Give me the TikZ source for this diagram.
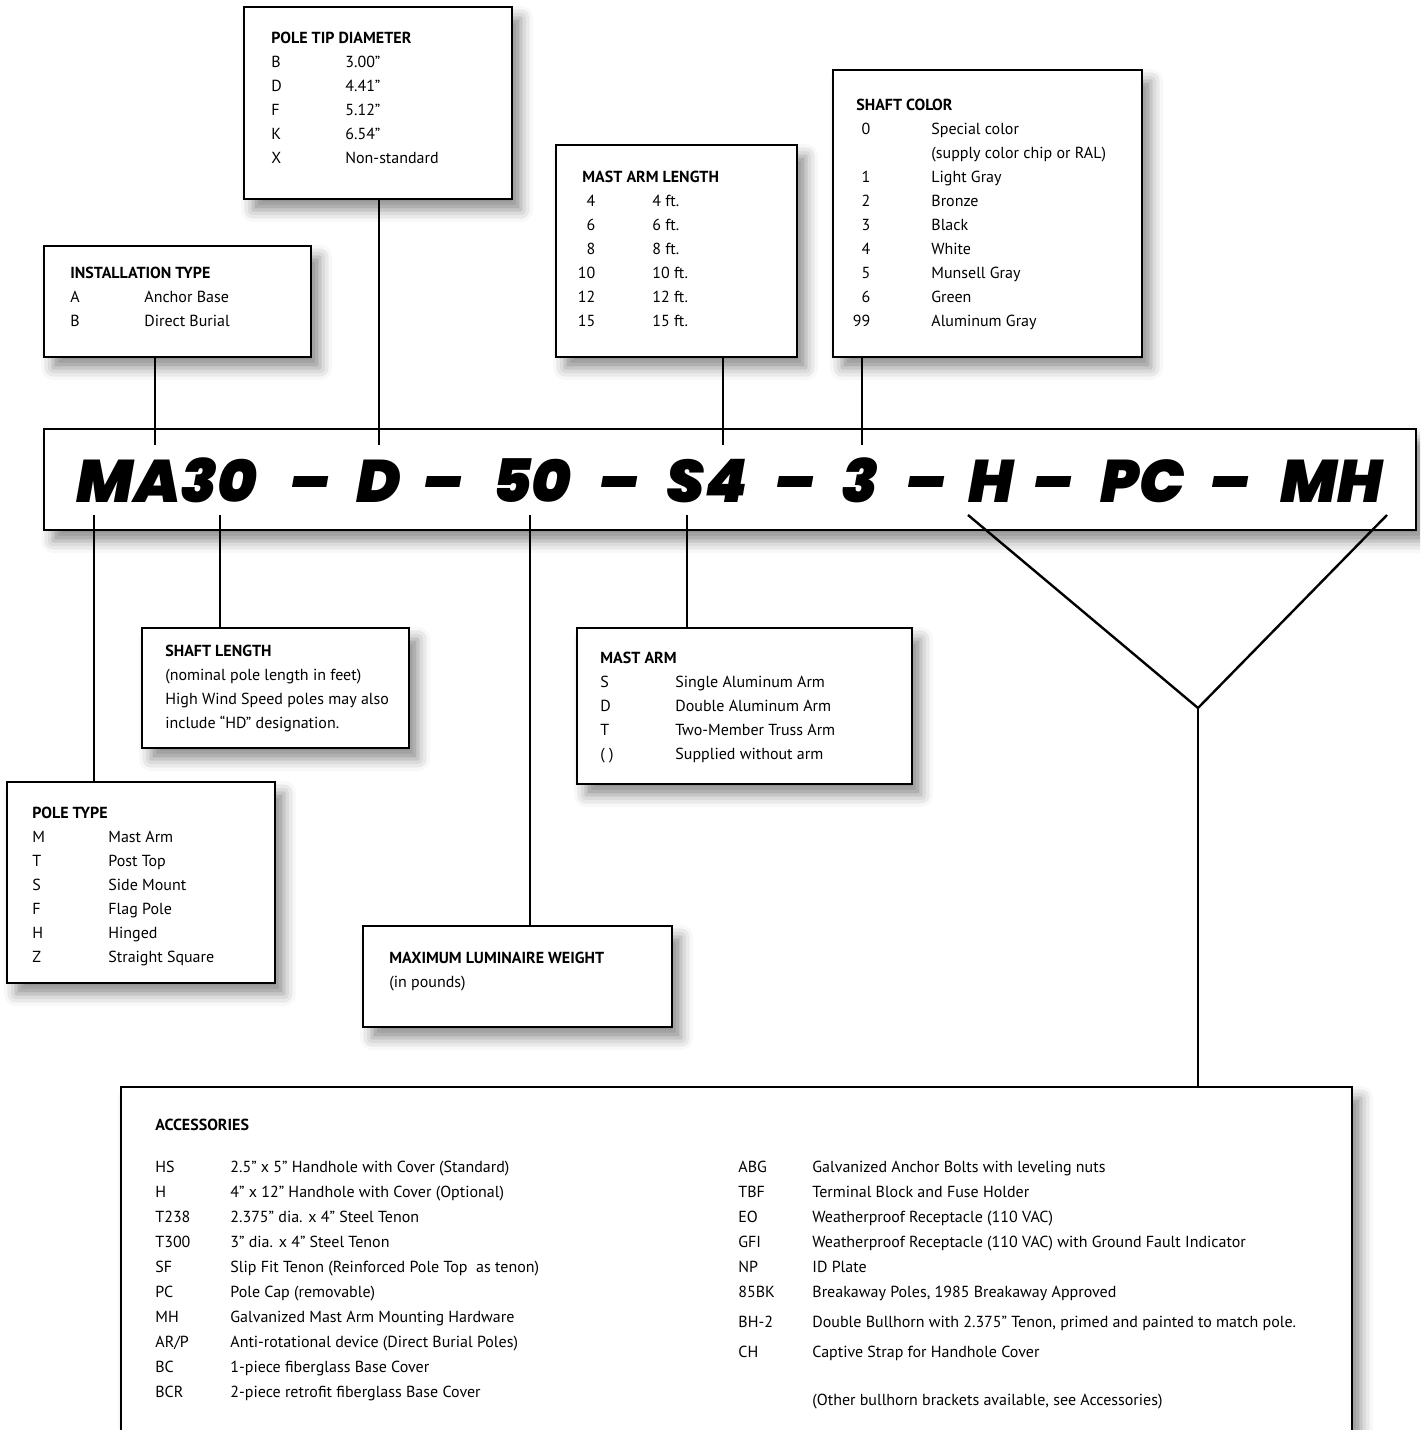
\documentclass[tikz,border=0pt]{standalone}
\usepackage{fontspec}
\setmainfont{PT Sans}
\newfontfamily\codefont{Poppins Black Italic}
\usetikzlibrary{fit,shadows.blur}

\tikzset{
  box/.style={draw, line width=1pt, fill=white, inner sep=0pt,
    blur shadow={shadow xshift=4.5pt, shadow yshift=-5.5pt, shadow blur radius=6pt, shadow opacity=45}},
  list/.style={anchor=base west, inner sep=0pt, font=\fontsize{8}{12}\selectfont},
  code/.style={anchor=base, inner sep=0pt, font=\codefont\fontsize{30}{30}\selectfont},
  link/.style={line width=1.2pt}
}
\newcommand{\hd}[1]{\multicolumn{2}{@{}l@{}}{\bfseries #1}}

\begin{document}
\begin{tikzpicture}[x=0.5pt,y=-0.5pt]
\clip (0,0) rectangle (1420,1430);

% boxes
\node[box, fit={(44,429) (1416,530)}] (code) {};
\node[box, fit={(244,7) (512,199)}] (tip) {};
\node[box, fit={(44,246) (311,357)}] (inst) {};
\node[box, fit={(556,145) (797,357)}] (arml) {};
\node[box, fit={(833,70) (1142,357)}] (col) {};
\node[box, fit={(142,628) (409,748)}] (len) {};
\node[box, fit={(577,628) (912,784)}] (arm) {};
\node[box, fit={(7,782) (275,983)}] (type) {};
\node[box, fit={(363,926) (672,1027)}] (wt) {};
\node[box, fit={(121,1087) (1352,1460)}] (acc) {};

% the code
\foreach \s/\x [count=\i] in {MA30/167,D/379,50/532,S4/707,3/860,H/991,PC/1143,MH/1332}
  \node[code] (c\i) at (\x,502) {\s};
\foreach \x [count=\i] in {310,443,619,795,926,1053,1230}
  \node[code] (d\i) at (\x,502) {–};

% texts
\node[list] (tipl) at (271,43) {\begin{tabular}[t]{@{}p{37pt}@{}l@{}}
\hd{POLE TIP DIAMETER}\\
B & 3.00”\\
D & 4.41”\\
F & 5.12”\\
K & 6.54”\\
X & Non-standard
\end{tabular}};
\node[list] (instl) at (70,278) {\begin{tabular}[t]{@{}p{37pt}@{}l@{}}
\hd{INSTALLATION TYPE}\\
A & Anchor Base\\
B & Direct Burial
\end{tabular}};
\node[list] (arml') at (582,182) {\begin{tabular}[t]{@{}p{35pt}@{}l@{}}
\hd{MAST ARM LENGTH}\\
\makebox[6.5pt][r]{4} & 4 ft.\\
\makebox[6.5pt][r]{6} & 6 ft.\\
\makebox[6.5pt][r]{8} & 8 ft.\\
\makebox[6.5pt][r]{10} & 10 ft.\\
\makebox[6.5pt][r]{12} & 12 ft.\\
\makebox[6.5pt][r]{15} & 15 ft.
\end{tabular}};
\node[list] (coll) at (856,110) {\begin{tabular}[t]{@{}p{37.5pt}@{}l@{}}
\hd{SHAFT COLOR}\\
\makebox[7pt][r]{0} & Special color\\
 & (supply color chip or RAL)\\
\makebox[7pt][r]{1} & Light Gray\\
\makebox[7pt][r]{2} & Bronze\\
\makebox[7pt][r]{3} & Black\\
\makebox[7pt][r]{4} & White\\
\makebox[7pt][r]{5} & Munsell Gray\\
\makebox[7pt][r]{6} & Green\\
\makebox[7pt][r]{99} & Aluminum Gray
\end{tabular}};
\node[list] (lenl) at (165,656) {\begin{tabular}[t]{@{}l@{}}
\bfseries SHAFT LENGTH\\
(nominal pole length in feet)\\
High Wind Speed poles may also\\
include “HD” designation.
\end{tabular}};
\node[list] (arml2) at (600,663) {\begin{tabular}[t]{@{}p{37.5pt}@{}l@{}}
\hd{MAST ARM}\\
S & Single Aluminum Arm\\
D & Double Aluminum Arm\\
T & Two-Member Truss Arm\\
( ) & Supplied without arm
\end{tabular}};
\node[list] (typel) at (32,818) {\begin{tabular}[t]{@{}p{38pt}@{}l@{}}
\hd{POLE TYPE}\\
M & Mast Arm\\
T & Post Top\\
S & Side Mount\\
F & Flag Pole\\
H & Hinged\\
Z & Straight Square
\end{tabular}};
\node[list] (wtl) at (389,963) {\begin{tabular}[t]{@{}l@{}}
\bfseries MAXIMUM LUMINAIRE WEIGHT\\
(in pounds)
\end{tabular}};
\node[list] (accl) at (155,1130) {\begin{tabular}[t]{@{}p{37.5pt}@{}l@{}}
\hd{ACCESSORIES}\\[9pt]
HS & 2.5” x 5” Handhole with Cover (Standard)\\[0.5pt]
H & 4” x 12” Handhole with Cover (Optional)\\[0.5pt]
T238 & 2.375” dia. x 4” Steel Tenon\\[0.5pt]
T300 & 3” dia. x 4” Steel Tenon\\[0.5pt]
SF & Slip Fit Tenon (Reinforced Pole Top\ \ as tenon)\\[0.5pt]
PC & Pole Cap (removable)\\[0.5pt]
MH & Galvanized Mast Arm Mounting Hardware\\[0.5pt]
AR/P & Anti-rotational device (Direct Burial Poles)\\[0.5pt]
BC & 1-piece fiberglass Base Cover\\[0.5pt]
BCR & 2-piece retrofit fiberglass Base Cover
\end{tabular}};
\node[list] (accr) at (738,1172) {\begin{tabular}[t]{@{}p{37pt}@{}l@{}}
ABG & Galvanized Anchor Bolts with leveling nuts\\[0.5pt]
TBF & Terminal Block and Fuse Holder\\[0.5pt]
EO & Weatherproof Receptacle (110 VAC)\\[0.5pt]
GFI & Weatherproof Receptacle (110 VAC) with Ground Fault Indicator\\[0.5pt]
NP & ID Plate\\[0.5pt]
85BK & Breakaway Poles, 1985 Breakaway Approved\\[3pt]
BH-2 & Double Bullhorn with 2.375” Tenon, primed and painted to match pole.\\[3pt]
CH & Captive Strap for Handhole Cover\\[12pt]
 & (Other bullhorn brackets available, see Accessories)
\end{tabular}};

% connectors above
\coordinate (tA) at (155,445);
\coordinate (tD) at (379,445);
\coordinate (tS) at (723,445);
\coordinate (tC) at (862,445);
\draw[link] (tA |- inst.south) -- (tA);
\draw[link] (tD |- tip.south) -- (tD);
\draw[link] (tS |- arml.south) -- (tS);
\draw[link] (tC |- col.south) -- (tC);

% connectors below
\coordinate (bM) at (94,515);
\coordinate (bL) at (220,515);
\coordinate (bW) at (530,515);
\coordinate (bS) at (687,515);
\draw[link] (bM) -- (bM |- type.north);
\draw[link] (bL) -- (bL |- len.north);
\draw[link] (bW) -- (bW |- wt.north);
\draw[link] (bS) -- (bS |- arm.north);
\coordinate (vl) at (968,515);
\coordinate (vr) at (1387,515);
\coordinate (vj) at (1198,708);
\draw[link] (vl) -- (vj) -- (vr);
\draw[link] (vj) -- (vj |- acc.north);
\end{tikzpicture}
\end{document}
